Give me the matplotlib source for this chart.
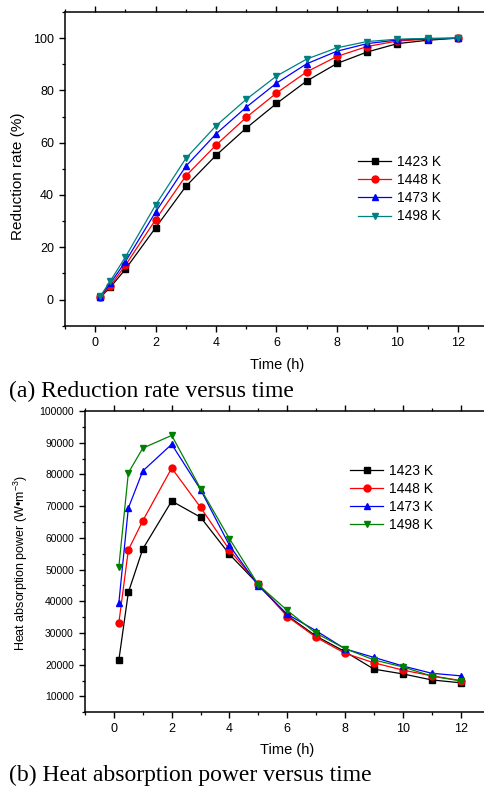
import matplotlib
matplotlib.use("Agg")
import matplotlib.pyplot as plt
from matplotlib.ticker import MultipleLocator

plt.rcParams['font.family'] = ['Liberation Sans', 'DejaVu Sans']
plt.rcParams['mathtext.fontset'] = 'custom'
plt.rcParams['mathtext.rm'] = 'Liberation Sans'
plt.rcParams['mathtext.it'] = 'Liberation Sans'

# ---------------- data ----------------
time_h = [0.17, 0.5, 1, 2, 3, 4, 5, 6, 7, 8, 9, 10, 11, 12]
labels = ['1423 K', '1448 K', '1473 K', '1498 K']

red_1423 = [0.9, 4.7, 11.6, 27.5, 43.3, 55.2, 65.6, 75.0, 83.6, 90.3, 94.7, 97.9, 99.2, 100.0]
red_1448 = [1.0, 5.3, 13.1, 30.6, 47.3, 59.1, 69.7, 79.0, 87.1, 93.0, 96.8, 98.9, 99.6, 100.0]
red_1473 = [1.1, 6.2, 14.5, 33.5, 51.0, 63.4, 73.6, 82.8, 90.2, 95.0, 97.9, 99.3, 99.8, 100.0]
red_1498 = [1.3, 7.1, 16.3, 36.2, 54.0, 66.5, 76.6, 85.5, 92.0, 96.3, 98.7, 99.6, 99.9, 100.0]

heat_1423 = [21400, 42800, 56500, 71600, 66500, 54800, 45300, 35500, 29000, 24100, 18600, 17100, 15200, 14300]
heat_1448 = [33100, 56200, 65400, 82000, 69600, 56200, 45300, 35200, 28600, 23600, 20600, 18300, 16500, 15000]
heat_1473 = [39400, 69400, 81100, 89500, 75200, 57600, 44900, 35900, 30700, 25000, 22300, 19600, 17300, 16500]
heat_1498 = [50800, 80500, 88300, 92300, 75500, 59700, 45200, 37100, 29900, 25100, 21500, 19300, 16400, 14900]

W, H = 485, 787
fig = plt.figure(figsize=(W / 100, H / 100), dpi=100)

def fx(px):
    return px / W

def fy(py):
    return 1 - py / H

markers = ['s', 'o', '^', 'v']

def style_axes(ax, ytick_size, xtick_size):
    ax.spines['right'].set_visible(False)
    for s in ['left', 'bottom', 'top']:
        ax.spines[s].set_linewidth(1.1)
    ax.xaxis.set_major_locator(MultipleLocator(2))
    ax.xaxis.set_minor_locator(MultipleLocator(1))
    ax.tick_params(axis='both', which='major', direction='out', length=4.5, width=1.0)
    ax.tick_params(axis='both', which='minor', direction='out', length=2.5, width=0.9)
    ax.tick_params(axis='x', which='both', top=True, labeltop=False)
    ax.tick_params(axis='x', which='major', labelsize=xtick_size)
    ax.tick_params(axis='y', which='major', labelsize=ytick_size)

# ---------------- top panel ----------------
ax1 = fig.add_axes([fx(65), fy(325.7), fx(423), 313.7 / H])
colors1 = ['black', 'red', 'blue', '#008080']
for ys, c, m, lab in zip([red_1423, red_1448, red_1473, red_1498], colors1, markers, labels):
    ax1.plot(time_h, ys, color=c, marker=m, markersize=5, linewidth=0.9, label=lab)
ax1.set_xlim(-1, 13)
ax1.set_ylim(-10, 110)
ax1.yaxis.set_major_locator(MultipleLocator(20))
ax1.yaxis.set_minor_locator(MultipleLocator(10))
style_axes(ax1, 9, 9)
ax1.set_xlabel('Time (h)', fontsize=10.5)
ax1.xaxis.set_label_coords(0.501, -0.103)
ax1.set_ylabel('Reduction rate (%)', fontsize=11)
ax1.yaxis.set_label_coords(-0.0946, 0.4756)
ax1.legend(loc='upper left', bbox_to_anchor=(fx(358), fy(155)), bbox_transform=fig.transFigure,
           frameon=False, fontsize=10, handlelength=2.4, handletextpad=0.4,
           labelspacing=0.3, borderpad=0, borderaxespad=0)

# ---------------- bottom panel ----------------
ax2 = fig.add_axes([fx(85), fy(712.3), fx(404.6), 301.3 / H])
colors2 = ['black', 'red', 'blue', 'green']
for ys, c, m, lab in zip([heat_1423, heat_1448, heat_1473, heat_1498], colors2, markers, labels):
    ax2.plot(time_h, ys, color=c, marker=m, markersize=5, linewidth=0.9, label=lab)
ax2.set_xlim(-1, 13)
ax2.set_ylim(5000, 100000)
ax2.yaxis.set_major_locator(MultipleLocator(10000))
ax2.yaxis.set_minor_locator(MultipleLocator(5000))
style_axes(ax2, 7.5, 9)
ax2.set_xlabel('Time (h)', fontsize=10.5)
ax2.xaxis.set_label_coords(0.499, -0.102)
ax2.set_ylabel('Heat absorption power (W\u2022m$^{-3}$)', fontsize=9)
ax2.yaxis.set_label_coords(-0.136, 0.494)
ax2.legend(loc='upper left', bbox_to_anchor=(fx(350), fy(463.5)), bbox_transform=fig.transFigure,
           frameon=False, fontsize=10, handlelength=2.4, handletextpad=0.4,
           labelspacing=0.3, borderpad=0, borderaxespad=0)

# ---------------- captions ----------------
fig.text(fx(9), fy(397), '(a) Reduction rate versus time', fontsize=17,
         family=['Liberation Serif', 'DejaVu Serif'], va='baseline', ha='left')
fig.text(fx(9), fy(781), '(b) Heat absorption power versus time', fontsize=17,
         family=['Liberation Serif', 'DejaVu Serif'], va='baseline', ha='left')

fig.savefig('out.png', dpi=100)
